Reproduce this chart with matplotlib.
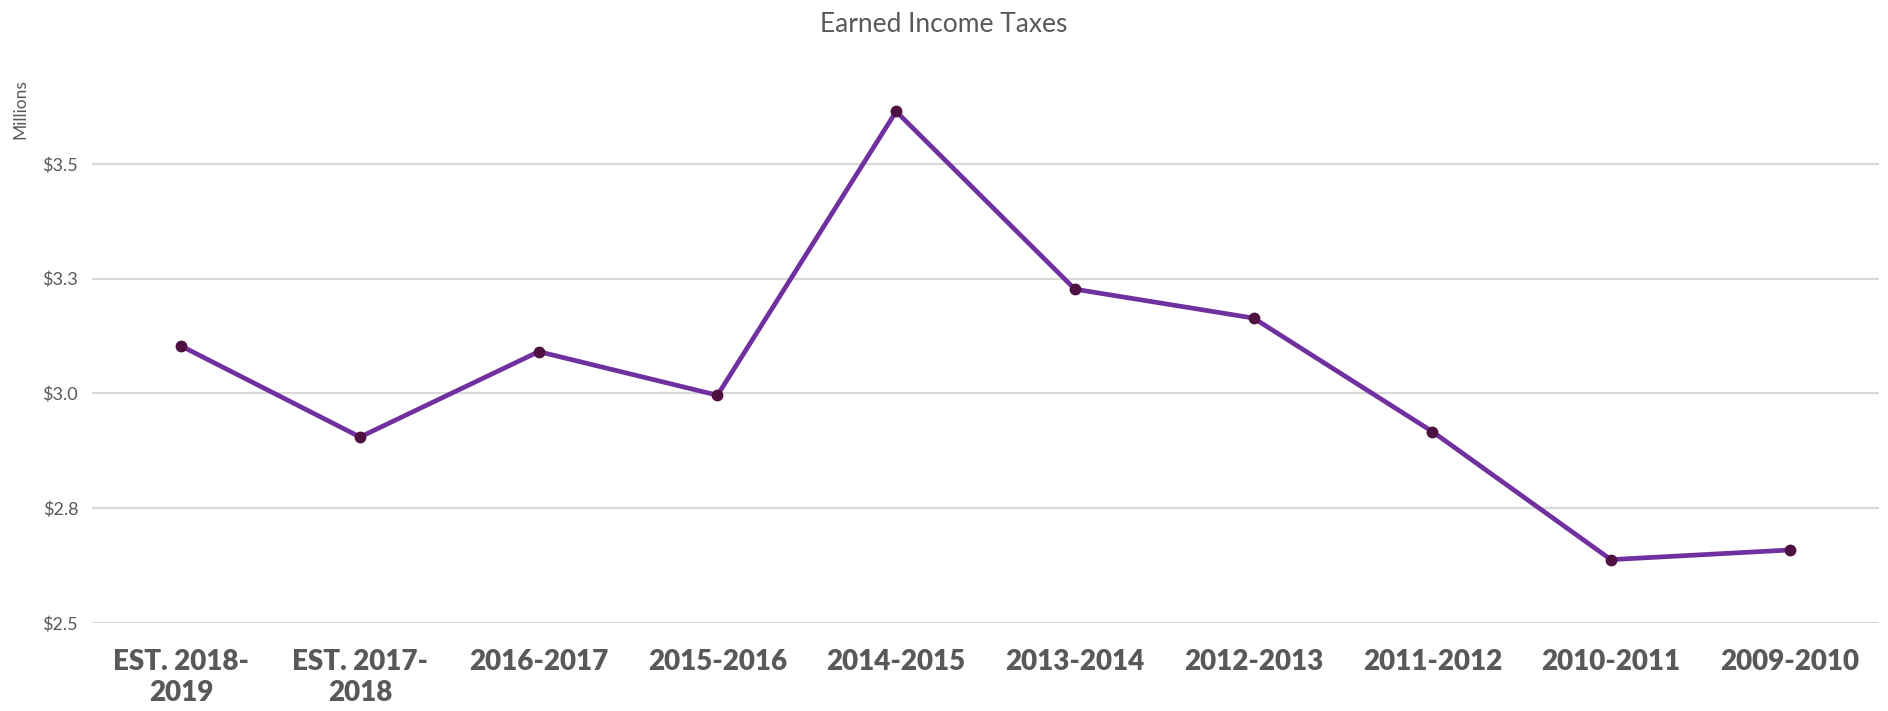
import matplotlib.pyplot as plt
import numpy as np

# datos
categorias = ["EST. 2018-\n2019", "EST. 2017-\n2018", "2016-2017", "2015-2016", "2014-2015",
              "2013-2014", "2012-2013", "2011-2012", "2010-2011", "2009-2010"]
valores = [3.103, 2.905, 3.091, 2.996, 3.614, 3.227, 3.164, 2.917, 2.638, 2.659]
yticks = [2.5, 2.75, 3.0, 3.25, 3.5]
ytick_labels = ["$2.5", "$2.8", "$3.0", "$3.3", "$3.5"]

plt.rcParams['font.family'] = ['Lato', 'DejaVu Sans']
gris = '#595959'

fig = plt.figure(figsize=(18.88, 7.11), dpi=100)
W, H = 1888, 711
ax = fig.add_axes([92/W, (H-623)/H, (1879-92)/W, (623-49)/H])

x = np.arange(len(categorias))
ax.plot(x, valores, color='#7030a0', lw=3.4, zorder=3, solid_joinstyle='round')
ax.plot(x, valores, 'o', color='#4d1040', ms=7.5, zorder=4)

ax.set_xlim(-0.5, len(categorias)-0.5)
ax.set_ylim(2.5, 3.75)
ax.set_yticks(yticks)
ax.set_yticklabels(ytick_labels, fontsize=13, color=gris)
ax.set_xticks(x)
ax.set_xticklabels(categorias, fontsize=20, fontweight='heavy', color=gris, linespacing=1.2)
ax.tick_params(axis='both', length=0)
ax.tick_params(axis='x', pad=19)
ax.tick_params(axis='y', pad=10)
ax.grid(axis='y', color='#d9d9d9', lw=1.6)
ax.set_axisbelow(True)
for s in ax.spines.values():
    s.set_visible(False)

fig.text(0.5, 1-24/H, "Earned Income Taxes", ha='center', va='center', fontsize=19, color=gris)
fig.text(20/W, 1-109/H, "Millions", rotation=90, ha='center', va='center', fontsize=12.5, color=gris)

fig.savefig('out.png', dpi=100)
